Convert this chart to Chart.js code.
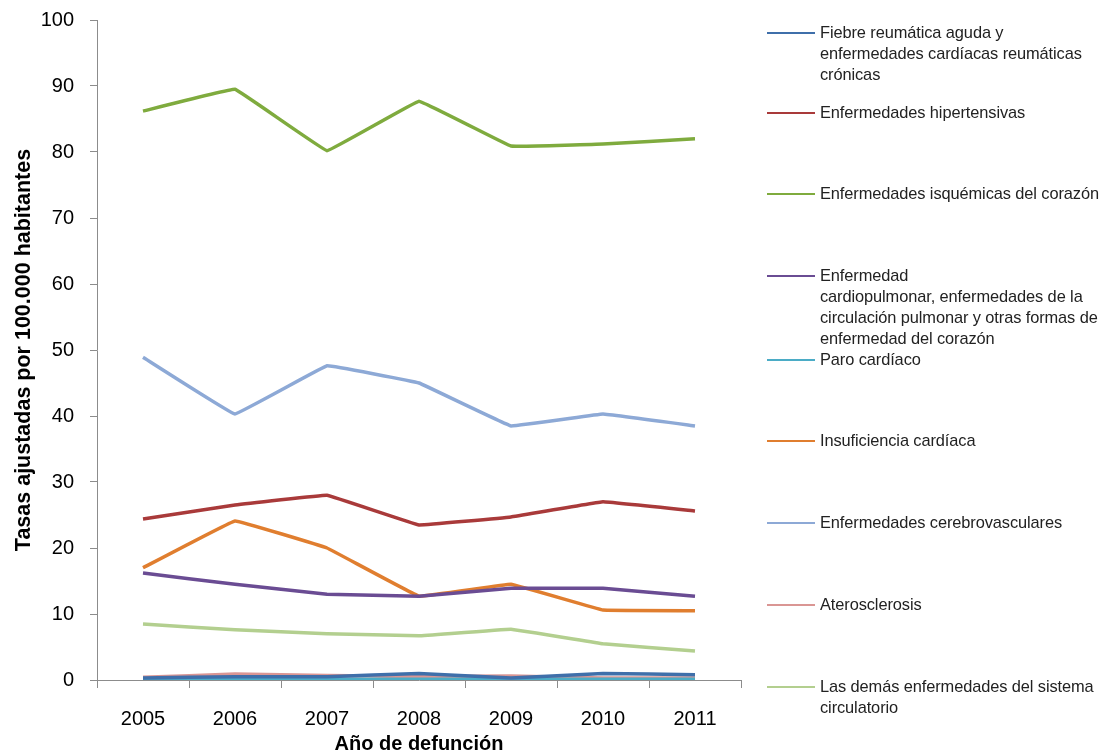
<!DOCTYPE html>
<html>
<head>
  <meta charset="UTF-8">
  <title>Tasas ajustadas por 100.000 habitantes</title>
  <script src="https://cdn.jsdelivr.net/npm/chart.js"></script>
  <style>
    body {
      margin: 0;
      background: #fff;
      font-family: 'Liberation Sans', Arial, sans-serif;
    }
    #wrap {
      position: relative;
      width: 1114px;
      height: 756px;
      overflow: hidden;
    }
    #legend {
      position: absolute;
      left: 0;
      top: 0;
    }
    .item {
      position: absolute;
      left: 767px;
      width: 345px;
      font-size: 16.4px;
      line-height: 21px;
      color: #222;
      letter-spacing: -0.1px;
    }
    .item .swatch {
      position: absolute;
      left: 0;
      top: 10px;
      width: 48px;
      height: 2px;
    }
    .item .txt {
      margin-left: 53px;
      white-space: pre;
    }
  </style>
</head>
<body>
<div id="wrap">
  <canvas id="chart" width="1114" height="756"></canvas>
  <div id="legend"></div>
</div>
<script>
  const years = ['2005', '2006', '2007', '2008', '2009', '2010', '2011'];

  const seriesNames = [
    'Fiebre reumática aguda y\nenfermedades cardíacas reumáticas\ncrónicas',
    'Enfermedades hipertensivas',
    'Enfermedades isquémicas del corazón',
    'Enfermedad\ncardiopulmonar, enfermedades de la\ncirculación pulmonar y otras formas de\nenfermedad del corazón',
    'Paro cardíaco',
    'Insuficiencia cardíaca',
    'Enfermedades cerebrovasculares',
    'Aterosclerosis',
    'Las demás enfermedades del sistema\ncirculatorio'
  ];

  const fiebre       = [0.3, 0.5, 0.5, 1.0, 0.3, 1.0, 0.8];
  const hipertensivas = [24.4, 26.5, 28.0, 23.5, 24.7, 27.0, 25.6];
  const isquemicas   = [86.2, 89.5, 80.2, 87.7, 80.9, 81.2, 82.0];
  const cardiopulm   = [16.2, 14.5, 13.0, 12.7, 13.9, 13.9, 12.7];
  const paro         = [0.1, 0.2, 0.1, 0.1, 0.1, 0.1, 0.1];
  const insuficiencia = [17.0, 24.1, 20.0, 12.7, 14.5, 10.6, 10.5];
  const cerebro      = [48.9, 40.3, 47.6, 45.0, 38.5, 40.3, 38.5];
  const ateros       = [0.4, 0.9, 0.7, 0.5, 0.6, 0.3, 0.3];
  const demas        = [8.5, 7.6, 7.0, 6.7, 7.7, 5.5, 4.4];

  const seriesValues = [fiebre, hipertensivas, isquemicas, cardiopulm, paro,
                        insuficiencia, cerebro, ateros, demas];
  const colors = ['#3F6FAA', '#A93A3A', '#7FAB3E', '#6A4C93', '#4BACC6',
                  '#E07E2F', '#8DA9D6', '#DA9694', '#B3CF8F'];

  const yTicks = [0, 10, 20, 30, 40, 50, 60, 70, 80, 90, 100];

  // legend rows (vertical position of each sample line)
  const legendY = [33, 113, 194, 276, 360, 441, 523, 605, 687];

  const datasets = seriesValues.map((vals, i) => ({
    label: seriesNames[i].replace(/\n/g, ' '),
    data: vals,
    borderColor: colors[i],
    backgroundColor: colors[i],
    borderWidth: 3.5,
    pointRadius: 0,
    tension: 0.04,
    fill: false
  }));

  const axisColor = '#8c8c8c';

  new Chart(document.getElementById('chart'), {
    type: 'line',
    data: { labels: years, datasets: datasets },
    options: {
      responsive: false,
      animation: false,
      layout: { padding: { top: 20, right: 373, left: 0, bottom: 0 } },
      plugins: {
        legend: { display: false },
        tooltip: { enabled: false }
      },
      scales: {
        x: {
          offset: true,
          border: { color: axisColor, width: 1 },
          grid: { display: true, drawOnChartArea: false, drawTicks: true, tickLength: 8, color: axisColor, offset: true },
          ticks: { color: '#000', font: { family: 'Liberation Sans', size: 20 }, padding: 19, maxRotation: 0 },
          title: {
            display: true,
            text: 'Año de defunción',
            color: '#000',
            font: { family: 'Liberation Sans', size: 20, weight: 'bold' },
            padding: { top: 0, bottom: 0 }
          },
          afterFit: s => { s.height = 76; }
        },
        y: {
          min: 0,
          max: 100,
          afterBuildTicks: s => { s.ticks = yTicks.map(v => ({ value: v })); },
          border: { color: axisColor, width: 1 },
          grid: { display: true, drawOnChartArea: false, drawTicks: true, tickLength: 7, color: axisColor },
          ticks: { color: '#000', font: { family: 'Liberation Sans', size: 20 }, padding: 16 },
          title: {
            display: true,
            text: 'Tasas ajustadas por 100.000 habitantes',
            color: '#000',
            font: { family: 'Liberation Sans', size: 21.5, weight: 'bold' },
            padding: { top: 11, bottom: 0 }
          },
          afterFit: s => { s.width = 97; s.paddingTop = 0; s.paddingBottom = 0; }
        }
      }
    }
  });

  const legend = document.getElementById('legend');
  seriesNames.forEach((name, i) => {
    const item = document.createElement('div');
    item.className = 'item';
    item.style.top = (legendY[i] - 11) + 'px';
    const sw = document.createElement('div');
    sw.className = 'swatch';
    sw.style.background = colors[i];
    const txt = document.createElement('div');
    txt.className = 'txt';
    txt.textContent = name;
    item.appendChild(sw);
    item.appendChild(txt);
    legend.appendChild(item);
  });
</script>
</body>
</html>
